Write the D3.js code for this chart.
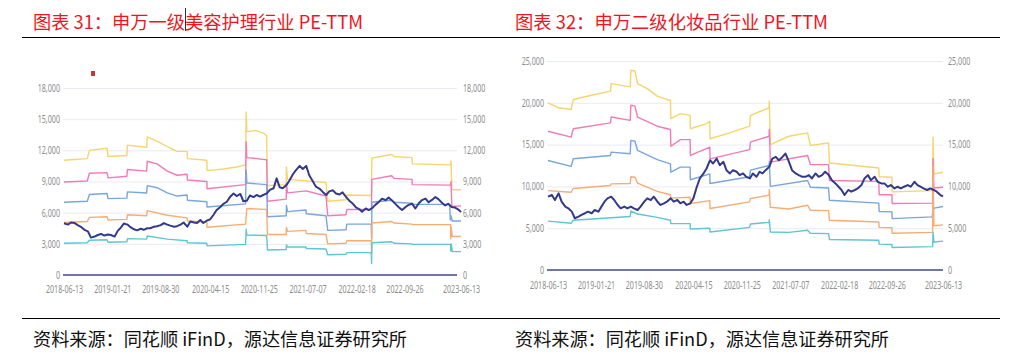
<!DOCTYPE html>
<html>
<head>
<meta charset="utf-8">
<script src="https://cdn.jsdelivr.net/npm/d3@7"></script>
<style>
body{margin:0;background:#fff;}
svg{display:block;}
.lbl text{font-family:"Noto Sans",sans-serif;font-size:10.5px;fill:#8c8c8c;}
.cap{font-family:"Noto Sans CJK SC",sans-serif;}
</style>
</head>
<body>
<svg id="chart" width="1018" height="357"></svg>
<script>
// x labels, same for both charts
var dateTicks = ["2018-06-13","2019-01-21","2019-08-30","2020-04-15","2020-11-25","2021-07-07","2022-02-18","2022-09-26","2023-06-13"];
var leftTicks = [0,3000,6000,9000,12000,15000,18000];
var rightTicks = [0,5000,10000,15000,20000,25000];
var startDate = "2018-06-13", endDate = "2023-06-13";

// PE-TTM, read every half month (1st and 15th) between the two end dates
var leftPe = [4980,4850,5050,5000,4800,4600,4350,4200,3600,3700,
  3850,3950,3800,3900,3850,3700,4250,4550,4950,4850,
  4600,4400,4300,4450,4350,4500,4500,4650,4700,4800,
  5000,4850,4750,4650,4700,4850,5050,4650,5150,5050,
  5000,5300,5000,5250,5350,5800,6250,6550,6850,7050,
  7500,7850,7600,7800,7100,7150,7650,7500,7700,7550,
  7700,7850,8200,8350,9300,8450,8350,8650,9100,9700,
  10100,10500,10200,10500,9600,9000,8500,8300,8000,7700,
  8050,8150,7850,7750,7950,7500,7150,6850,6500,6350,
  6100,6400,6250,6450,6750,7050,7350,7200,7450,7150,
  6850,6500,6250,6550,6750,6850,6400,6900,7200,7350,
  7000,7250,7500,7300,7000,6700,6850,6550,6500,6300,6050];
var rightPe = [8770,8970,8370,9170,8170,7580,7380,6980,6190,6390,
  6590,6790,6980,6790,7180,6980,7580,8170,8570,8770,
  8370,7780,7380,7580,7380,7580,7380,7180,7580,8170,
  8570,8370,8770,8170,7780,7980,8170,8570,8170,8370,
  7980,8170,7780,7980,8570,9960,10950,11550,12140,13130,
  12740,13330,12540,12940,11940,11550,11940,11750,11350,11550,
  11150,10950,11550,11150,11750,11550,11940,12340,13330,13530,
  13130,13530,13930,12940,11940,11550,11350,11150,11150,11350,
  10950,11550,11150,11350,11750,11350,10750,10360,9960,9570,
  8970,9570,9370,9570,9760,10160,10950,11350,10750,11150,
  10550,10360,10360,9960,10160,9760,9960,9760,9960,10160,
  9960,10550,10160,9960,9760,9570,9760,9570,9370,8970,8800];

// bands of chart 31: [date, value]
var leftPlus2 = [["2018-06-13",11050],["2018-09-28",11200],["2018-10-08",12000],["2018-12-28",12200],["2019-01-02",11400],["2019-03-29",11500],["2019-04-01",12500],["2019-06-28",12300],["2019-07-01",13300],["2019-08-01",13000],["2019-09-01",12700],["2019-10-15",12200],["2019-11-15",11900],["2019-12-31",11900],["2020-01-02",11200],["2020-03-31",11050],["2020-04-01",10050],["2020-06-15",10200],["2020-08-15",10400],["2020-09-25",10600],["2020-09-28",15700],["2020-10-01",13800],["2020-11-15",13900],["2020-12-20",13600],["2020-12-31",13400],["2021-01-04",8600],["2021-03-31",8700],["2021-04-01",10400],["2021-04-06",9200],["2021-09-30",8900],["2021-10-08",7100],["2021-12-31",7250],["2022-01-04",7700],["2022-04-27",7650],["2022-04-29",11250],["2022-07-29",11600],["2022-08-10",11400],["2022-10-31",11300],["2022-11-01",10700],["2023-04-26",10600],["2023-04-28",11000],["2023-05-02",8200],["2023-06-13",8200]];
var leftPlus1 = [["2018-06-13",8950],["2018-09-28",9050],["2018-10-08",9800],["2018-12-28",9850],["2019-01-02",9350],["2019-03-29",9500],["2019-04-01",10150],["2019-06-28",10000],["2019-07-01",10950],["2019-08-15",10700],["2019-10-01",10000],["2019-11-15",9600],["2019-12-31",9700],["2020-01-02",9150],["2020-03-31",9000],["2020-04-01",8300],["2020-09-25",8700],["2020-09-28",12800],["2020-10-01",11300],["2020-12-31",11100],["2021-01-04",7100],["2021-03-31",7300],["2021-04-01",8800],["2021-04-06",7900],["2021-07-01",8100],["2021-09-30",7600],["2021-10-08",5700],["2021-12-31",5800],["2022-01-04",6300],["2022-04-27",6300],["2022-04-29",9200],["2022-07-29",9550],["2022-08-10",9300],["2022-10-31",9200],["2022-11-01",8700],["2023-04-26",8650],["2023-04-28",9000],["2023-05-02",6600],["2023-06-13",6650]];
var leftMean = [["2018-06-13",7000],["2018-09-28",7100],["2018-10-08",7750],["2018-12-28",7850],["2019-01-02",7350],["2019-03-29",7400],["2019-04-01",8000],["2019-06-28",7900],["2019-07-01",8600],["2019-08-15",8400],["2019-10-01",7900],["2019-11-15",7600],["2019-12-31",7700],["2020-01-02",7200],["2020-03-31",7050],["2020-04-01",6550],["2020-09-25",6850],["2020-09-28",10100],["2020-10-01",8850],["2020-12-31",8700],["2021-01-04",5600],["2021-03-31",5700],["2021-04-01",6700],["2021-04-06",6100],["2021-06-30",6250],["2021-07-01",5900],["2021-09-30",5700],["2021-10-08",4300],["2021-12-31",4350],["2022-01-04",4900],["2022-04-26",4900],["2022-04-28",3500],["2022-04-29",7000],["2022-07-29",7200],["2022-08-10",7000],["2022-10-31",6900],["2022-11-01",6800],["2023-04-22",6800],["2023-04-25",5300],["2023-04-28",5700],["2023-05-04",5200],["2023-06-13",5200]];
var leftMinus1 = [["2018-06-13",5050],["2018-09-28",5150],["2018-10-08",5550],["2018-12-28",5600],["2019-01-02",5300],["2019-03-29",5350],["2019-04-01",5800],["2019-06-28",5700],["2019-07-01",6200],["2019-10-01",5750],["2019-12-31",5500],["2020-01-02",5200],["2020-03-31",5100],["2020-04-01",4600],["2020-09-25",4900],["2020-10-01",6400],["2020-12-31",6300],["2021-01-04",3900],["2021-03-31",3900],["2021-04-01",4600],["2021-04-06",4200],["2021-06-30",4300],["2021-07-01",4000],["2021-09-30",3900],["2021-10-08",3000],["2021-12-31",3050],["2022-01-04",3300],["2022-04-26",3300],["2022-04-28",2100],["2022-04-29",5000],["2022-07-29",5150],["2022-08-10",5000],["2022-10-31",4900],["2022-11-01",4850],["2023-04-26",4850],["2023-04-27",3500],["2023-04-29",4600],["2023-05-04",3700],["2023-06-13",3700]];
var leftMinus2 = [["2018-06-13",3050],["2018-09-28",3100],["2018-10-08",3350],["2018-12-28",3400],["2019-01-02",3150],["2019-03-29",3200],["2019-04-01",3500],["2019-06-28",3450],["2019-07-01",3750],["2019-10-01",3450],["2019-12-31",3300],["2020-01-02",3100],["2020-03-31",3050],["2020-04-01",2800],["2020-09-25",2950],["2020-09-28",4400],["2020-10-01",3850],["2020-12-31",3800],["2021-01-04",2400],["2021-03-31",2450],["2021-04-01",2900],["2021-04-06",2700],["2021-06-30",2700],["2021-07-01",2550],["2021-09-30",2500],["2021-10-08",1950],["2021-12-31",2000],["2022-01-04",2150],["2022-04-26",2150],["2022-04-28",1100],["2022-04-29",3100],["2022-07-29",3200],["2022-08-10",3050],["2022-10-31",3000],["2022-11-01",2950],["2023-04-26",2950],["2023-04-27",2300],["2023-04-29",3000],["2023-05-04",2250],["2023-06-13",2250]];

// bands of chart 32
var rightPlus2 = [["2018-06-13",20000],["2018-08-01",19400],["2018-09-28",19200],["2018-10-08",20400],["2018-12-31",20900],["2019-03-29",21400],["2019-04-01",22300],["2019-06-28",21900],["2019-07-01",23900],["2019-07-20",23800],["2019-08-01",22300],["2019-09-15",21700],["2019-10-31",20800],["2019-12-15",20400],["2019-12-31",20300],["2020-01-02",18100],["2020-02-15",18700],["2020-03-31",18500],["2020-04-01",16900],["2020-06-15",17500],["2020-06-30",17800],["2020-07-01",15700],["2020-09-30",16400],["2020-12-31",17200],["2021-01-04",18500],["2021-03-31",19400],["2021-04-01",20200],["2021-04-06",15000],["2021-06-30",16000],["2021-09-25",16400],["2021-10-08",14900],["2021-12-31",15200],["2022-01-04",12800],["2022-05-01",12500],["2022-08-20",12200],["2022-08-22",11150],["2022-10-20",11100],["2022-10-21",9350],["2023-04-26",9500],["2023-04-28",15900],["2023-05-02",11500],["2023-06-13",11700]];
var rightPlus1 = [["2018-06-13",16600],["2018-09-28",15900],["2018-10-08",16900],["2019-03-29",17600],["2019-04-01",18300],["2019-06-28",17900],["2019-07-01",19700],["2019-07-20",19600],["2019-08-01",18300],["2019-10-31",17200],["2019-12-31",16800],["2020-01-02",14800],["2020-02-15",15600],["2020-03-31",15600],["2020-04-01",13700],["2020-06-30",14700],["2020-07-01",13300],["2020-12-31",14400],["2021-01-04",15300],["2021-03-31",16000],["2021-04-01",16800],["2021-04-06",12900],["2021-09-25",13700],["2021-10-08",12600],["2021-12-31",12600],["2022-01-04",10700],["2022-08-20",10600],["2022-08-22",9000],["2022-10-20",9000],["2022-10-21",7950],["2023-04-26",8000],["2023-04-28",13300],["2023-05-02",9800],["2023-06-13",9900]];
var rightMean = [["2018-06-13",13100],["2018-09-28",12400],["2018-10-08",13300],["2019-03-29",13700],["2019-04-01",14100],["2019-06-28",13900],["2019-07-01",15500],["2019-07-20",15400],["2019-08-01",14300],["2019-10-31",13200],["2019-12-31",12700],["2020-01-02",11700],["2020-02-15",12300],["2020-03-31",12300],["2020-04-01",10800],["2020-06-30",11500],["2020-07-01",10350],["2020-12-31",11150],["2021-01-04",11950],["2021-03-31",12500],["2021-04-01",13000],["2021-04-06",10000],["2021-09-25",10700],["2021-10-08",9900],["2021-12-31",9800],["2022-01-04",8350],["2022-08-20",8000],["2022-08-22",7000],["2022-10-20",6950],["2022-10-21",6150],["2023-04-24",6350],["2023-04-27",7000],["2023-05-03",7400],["2023-06-13",7600]];
var rightMinus1 = [["2018-06-13",9500],["2018-09-28",9300],["2018-10-08",9750],["2019-03-29",10100],["2019-04-01",10300],["2019-06-28",10350],["2019-07-01",11150],["2019-07-20",11100],["2019-08-01",10400],["2019-10-31",9400],["2019-12-31",9000],["2020-01-02",8600],["2020-03-31",8700],["2020-04-01",7950],["2020-06-30",8300],["2020-07-01",7350],["2020-12-31",8150],["2021-01-04",8550],["2021-03-31",8950],["2021-04-01",9600],["2021-04-06",7500],["2021-06-30",7300],["2021-09-25",7750],["2021-10-08",7150],["2021-12-31",7100],["2022-01-04",5950],["2022-08-20",5750],["2022-08-22",5100],["2022-10-20",5050],["2022-10-21",4400],["2023-04-26",4500],["2023-04-28",12500],["2023-05-02",5300],["2023-06-13",5400]];
var rightMinus2 = [["2018-06-13",5850],["2018-09-28",5600],["2018-10-08",5950],["2019-06-28",6400],["2019-07-01",7050],["2019-08-01",6700],["2019-10-31",6300],["2019-12-31",5950],["2020-01-02",5550],["2020-03-31",5550],["2020-04-01",4900],["2020-06-30",5000],["2020-07-01",4550],["2020-12-31",5100],["2021-01-04",5500],["2021-03-31",5700],["2021-04-01",6000],["2021-04-06",4550],["2021-06-30",4500],["2021-09-25",4750],["2021-10-08",4400],["2021-12-31",4350],["2022-01-04",3650],["2022-08-20",3550],["2022-08-22",3100],["2022-10-20",3050],["2022-10-21",2700],["2023-04-26",2800],["2023-04-28",4500],["2023-05-02",3350],["2023-06-13",3450]];

var bandColors = ["#f6d56c","#f17bb6","#78a6dd","#f6ad73","#5fc5d3"];
var peColor = "#343a8b";

var parseDate = d3.timeParse("%Y-%m-%d");
var svg = d3.select("#chart");

/**
 * half month sampling dates of the PE series
 */
function peDates(){
    var out = [parseDate(startDate)];
    var end = parseDate(endDate);
    d3.timeMonth.range(new Date(2018,6,1), new Date(2023,5,2)).forEach(function(m){
        [1,15].forEach(function(d){
            var t = new Date(m.getFullYear(), m.getMonth(), d);
            if (t < end) out.push(t);
        });
    });
    out.push(end);
    return out;
}

/**
 * one chart panel
 */
function drawPanel(p){
    var x = d3.scaleTime()
        .domain([parseDate(startDate), parseDate(endDate)])
        .range([p.x0, p.x1]);
    var y = d3.scaleLinear().domain([0, p.yMax]).range([p.yBottom, p.yTop]);
    var g = svg.append("g");

    // grid
    g.append("g")
        .attr("transform", "translate(" + p.gridL + ",0)")
        .call(d3.axisLeft(y).tickValues(p.ticks.slice(1)).tickSize(-(p.gridR - p.gridL)).tickFormat(""))
        .call(function(a){ a.select(".domain").remove(); })
        .selectAll("line").attr("stroke", "#e9ebf3");

    // zero line
    g.append("line")
        .attr("x1", p.gridL).attr("x2", p.gridR)
        .attr("y1", y(0)).attr("y2", y(0))
        .attr("stroke", "#7175a8").attr("stroke-width", 2.2);

    var line = d3.line()
        .x(function(d){ return x(d[0]); })
        .y(function(d){ return y(d[1]); });

    p.bands.forEach(function(b, i){
        g.append("path")
            .datum(b.map(function(d){ return [parseDate(d[0]), d[1]]; }))
            .attr("d", line)
            .attr("fill", "none")
            .attr("stroke", bandColors[i])
            .attr("stroke-width", 1.4)
            .attr("stroke-linejoin", "round");
    });

    var dates = peDates();
    g.append("path")
        .datum(p.pe.map(function(v, i){ return [dates[i], v]; }))
        .attr("d", line)
        .attr("fill", "none")
        .attr("stroke", peColor)
        .attr("stroke-width", 2)
        .attr("stroke-linejoin", "round");

    var fmt = d3.format(",");
    // left labels
    g.append("g").attr("class", "lbl")
        .attr("transform", "translate(" + p.gridL + ",0)")
        .call(d3.axisLeft(y).tickValues(p.ticks).tickSize(0).tickPadding(4.4).tickFormat(fmt))
        .call(function(a){ a.select(".domain").remove(); })
        .selectAll("text").attr("transform", "scale(0.68,1)");
    // right labels
    g.append("g").attr("class", "lbl")
        .attr("transform", "translate(" + p.labelR + ",0)")
        .call(d3.axisRight(y).tickValues(p.ticks).tickSize(0).tickPadding(0).tickFormat(fmt))
        .call(function(a){ a.select(".domain").remove(); })
        .selectAll("text").attr("transform", "scale(0.68,1)");
    // dates
    g.append("g").attr("class", "lbl")
        .attr("transform", "translate(0," + y(0) + ")")
        .call(d3.axisBottom(x).tickValues(dateTicks.map(parseDate)).tickSize(0).tickPadding(p.datePad).tickFormat(d3.timeFormat("%Y-%m-%d")))
        .call(function(a){ a.select(".domain").remove(); })
        .selectAll("text").attr("transform", "scale(0.68,1)");

    // title and source
    svg.append("text").attr("class", "cap")
        .attr("x", p.textX).attr("y", 29)
        .attr("font-size", 18).attr("fill", "#f2141c")
        .attr("textLength", p.titleLen).attr("lengthAdjust", "spacingAndGlyphs")
        .text(p.title);
    svg.append("text").attr("class", "cap")
        .attr("x", p.textX).attr("y", 346)
        .attr("font-size", 18).attr("fill", "#111")
        .attr("textLength", 374).attr("lengthAdjust", "spacingAndGlyphs")
        .text("资料来源：同花顺 iFinD，源达信息证券研究所");
}

svg.append("rect").attr("width", 1018).attr("height", 357).attr("fill", "#fff");

drawPanel({
    title: "图表 31：申万一级美容护理行业 PE-TTM", titleLen: 330, textX: 33,
    x0: 64, x1: 461, yBottom: 275, yTop: 88, yMax: 18000,
    gridL: 63, gridR: 457, labelR: 463, datePad: 11,
    ticks: leftTicks, pe: leftPe,
    bands: [leftPlus2, leftPlus1, leftMean, leftMinus1, leftMinus2]
});
drawPanel({
    title: "图表 32：申万二级化妆品行业 PE-TTM", titleLen: 313, textX: 515,
    x0: 548, x1: 943, yBottom: 270, yTop: 61, yMax: 25000,
    gridL: 547, gridR: 943, labelR: 948, datePad: 12,
    ticks: rightTicks, pe: rightPe,
    bands: [rightPlus2, rightPlus1, rightMean, rightMinus1, rightMinus2]
});

// rules under titles and above sources
svg.append("line").attr("x1", 22).attr("x2", 1000).attr("y1", 37.5).attr("y2", 37.5)
    .attr("stroke", "#000").attr("stroke-width", 1.2);
svg.append("line").attr("x1", 22).attr("x2", 1000).attr("y1", 318.5).attr("y2", 318.5)
    .attr("stroke", "#000").attr("stroke-width", 1.2);

// stray marks seen in the scan
svg.append("rect").attr("x", 91).attr("y", 71).attr("width", 4).attr("height", 5).attr("fill", "#c0393b");
svg.append("line").attr("x1", 185.5).attr("x2", 185.5).attr("y1", 8).attr("y2", 31)
    .attr("stroke", "#333").attr("stroke-width", 1);
</script>
</body>
</html>
